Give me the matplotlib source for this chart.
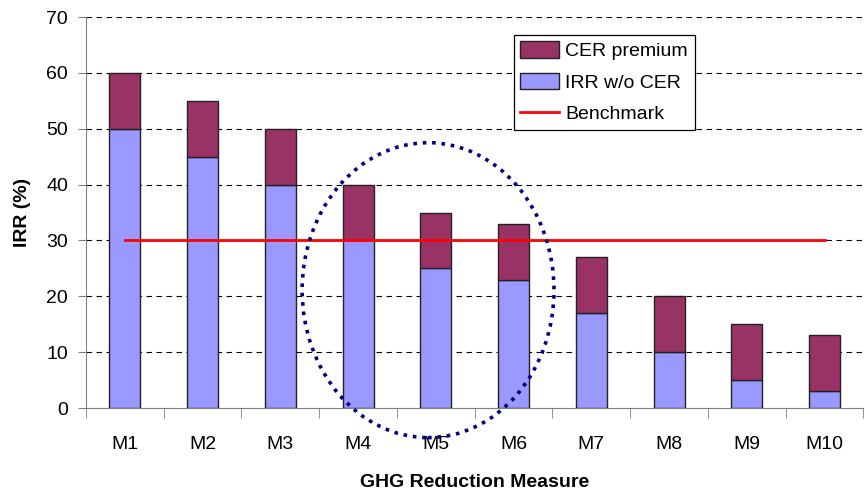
import matplotlib.pyplot as plt
import numpy as np
from matplotlib.patches import Ellipse, Patch
from matplotlib.lines import Line2D

plt.rcParams['font.family'] = ['Liberation Sans', 'DejaVu Sans']

measures = ['M1', 'M2', 'M3', 'M4', 'M5', 'M6', 'M7', 'M8', 'M9', 'M10']
irr_wo_cer = [50, 45, 40, 30, 25, 23, 17, 10, 5, 3]
cer_premium = [10, 10, 10, 10, 10, 10, 10, 10, 10, 10]
benchmark = 30

def main():
    fig = plt.figure(figsize=(8.65, 4.9), dpi=100)
    ax = fig.add_axes([0.0994, 0.1673, 0.8988, 0.798])

    x = np.arange(len(measures))
    ax.bar(x, irr_wo_cer, width=0.4, color='#9999FF', edgecolor='#222222', linewidth=1, zorder=3)
    ax.bar(x, cer_premium, width=0.4, bottom=irr_wo_cer, color='#993366',
           edgecolor='#222222', linewidth=1, zorder=3)
    ax.plot([x[0], x[-1]], [benchmark, benchmark], color='#FF0000', linewidth=2, zorder=4)

    # highlight ring around M4-M6
    ring = Ellipse((3.9, 21.1), 3.24, 52.8, fill=False, edgecolor='#000080',
                   linestyle=(0, (1, 1.6)), linewidth=2.6, zorder=5, clip_on=False)
    ax.add_patch(ring)

    ax.set_xlim(-0.5, 9.5)
    ax.set_ylim(0, 70)
    ax.set_yticks(range(0, 71, 10))
    for yv in range(10, 71, 10):
        ax.axhline(yv, color='black', linestyle=(0, (5, 4)), linewidth=0.8, zorder=1)

    ax.set_xticks(x)
    ax.set_xticklabels(measures, fontsize=14)
    ax.set_xticks(np.arange(-0.5, 10, 1), minor=True)
    ax.tick_params(axis='x', which='major', length=0, pad=20)
    ax.tick_params(axis='x', which='minor', length=7, color='#808080', direction='out')
    ax.tick_params(axis='y', length=6, color='#808080', labelsize=14, pad=7)

    for side in ['top', 'right']:
        ax.spines[side].set_visible(False)
    ax.spines['left'].set_color('#808080')
    ax.spines['bottom'].set_color('#808080')

    ax.set_ylabel('IRR (%)', fontsize=14, fontweight='bold', labelpad=11)
    ax.set_xlabel('GHG Reduction Measure', fontsize=14, fontweight='bold', labelpad=15)

    handles = [
        Patch(facecolor='#993366', edgecolor='#222222', label='CER premium'),
        Patch(facecolor='#9999FF', edgecolor='#222222', label='IRR w/o CER'),
        Line2D([0], [0], color='#FF0000', linewidth=2, label='Benchmark'),
    ]
    leg = ax.legend(handles=handles, loc='upper left', bbox_to_anchor=(0.55, 0.955),
                    fontsize=14, frameon=True, fancybox=False, framealpha=1,
                    edgecolor='black', handlelength=2.0, handleheight=0.9,
                    handletextpad=0.3, borderpad=0.35, labelspacing=0.65,
                    borderaxespad=0)
    leg.get_frame().set_linewidth(0.9)
    leg.set_zorder(6)

    fig.savefig('out.png', dpi=100)

if __name__ == '__main__':
    main()
